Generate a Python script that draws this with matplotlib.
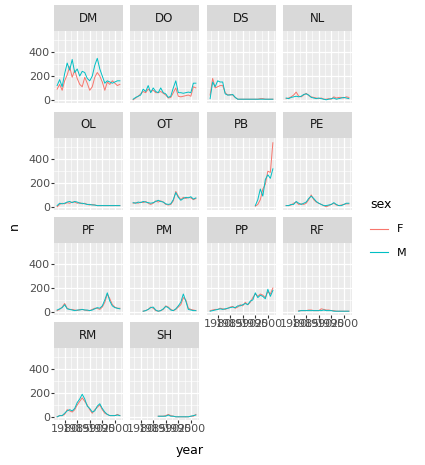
import numpy as np
import matplotlib
matplotlib.use('Agg')
from matplotlib import pyplot as plt
from matplotlib.lines import Line2D

years = list(range(1977, 2003))
species = ['DM', 'DO', 'DS', 'NL', 'OL', 'OT', 'PB', 'PE', 'PF', 'PM', 'PP', 'RF', 'RM', 'SH']
na = np.nan

dm_f = [90, 130, 80, 160, 210, 280, 190, 250, 180, 130, 110, 190, 140, 80, 110, 190, 230, 200, 150, 80, 150, 130, 160, 140, 120, 130]
dm_m = [120, 170, 110, 220, 310, 250, 340, 230, 260, 200, 240, 230, 180, 160, 200, 290, 350, 260, 200, 140, 160, 150, 140, 150, 160, 160]
do_f = [0, 15, 30, 50, 70, 60, 90, 70, 80, 60, 60, 70, 55, 40, 15, 20, 60, 100, 30, 25, 30, 35, 40, 30, 110, 100]
do_m = [5, 20, 30, 40, 90, 70, 120, 60, 100, 70, 60, 100, 60, 50, 20, 30, 100, 160, 60, 60, 55, 60, 65, 60, 140, 140]
ds_f = [40, 180, 100, 110, 120, 120, 60, 40, 45, 40, 20, 5, 5, 5, 5, 5, 5, 5, 5, 5, 10, 10, 5, 5, 5, 5]
ds_m = [10, 150, 110, 160, 150, 150, 50, 40, 40, 45, 20, 5, 5, 5, 5, 5, 5, 5, 5, 5, 5, 5, 5, 5, 5, 5]
nl_f = [10, 15, 25, 40, 65, 30, 25, 40, 55, 35, 25, 20, 15, 10, 15, 5, 5, 10, 5, 25, 15, 20, 20, 15, 25, 20]
nl_m = [15, 10, 20, 25, 30, 25, 30, 45, 50, 40, 20, 15, 10, 15, 10, 5, 0, 5, 10, 15, 5, 10, 15, 20, 15, 10]
ol_f = [0, 20, 30, 25, 35, 30, 40, 40, 30, 35, 25, 30, 20, 15, 20, 15, 10, 10, 10, 10, 10, 10, 10, 10, 10, 10]
ol_m = [10, 30, 25, 30, 40, 45, 35, 45, 40, 30, 30, 25, 20, 20, 15, 15, 10, 10, 10, 10, 10, 10, 10, 10, 10, 10]
ot_f = [30, 35, 30, 40, 35, 45, 30, 20, 30, 50, 40, 50, 40, 20, 15, 20, 50, 130, 90, 60, 80, 70, 80, 75, 60, 70]
ot_m = [35, 30, 40, 35, 45, 40, 35, 30, 35, 45, 55, 45, 40, 25, 20, 25, 60, 120, 80, 55, 70, 80, 75, 85, 65, 75]
pb_f = [na] * 18 + [5, 20, 60, 150, 190, 300, 290, 540]
pb_m = [na] * 18 + [10, 60, 150, 90, 230, 270, 240, 320]
pe_f = [10, 10, 15, 30, 40, 20, 25, 20, 30, 60, 100, 60, 40, 30, 20, 10, 0, 10, 20, 30, 15, 10, 15, 20, 25, 25]
pe_m = [10, 10, 20, 20, 45, 30, 20, 30, 40, 70, 90, 70, 45, 30, 20, 10, 10, 15, 20, 35, 20, 10, 10, 20, 30, 30]
pf_f = [10, 20, 40, 70, 30, 20, 20, 15, 10, 20, 20, 15, 10, 10, 20, 30, 30, 20, 40, 80, 150, 110, 60, 40, 30, 30]
pf_m = [15, 25, 35, 60, 25, 20, 15, 10, 15, 15, 20, 15, 15, 10, 15, 25, 35, 30, 50, 100, 160, 90, 50, 35, 30, 25]
pm_f = [na] * 4 + [5, 10, 20, 40, 30, 10, 5, 10, 20, 50, 40, 20, 10, 20, 40, 60, 120, 100, 30, 20, 15, 10]
pm_m = [na] * 4 + [5, 10, 20, 35, 40, 15, 5, 10, 25, 45, 35, 15, 10, 25, 50, 80, 150, 90, 20, 15, 10, 10]
pp_f = [10, 15, 20, 20, 30, 25, 20, 30, 40, 45, 30, 40, 60, 50, 80, 60, 80, 120, 150, 130, 150, 140, 120, 170, 150, 200]
pp_m = [5, 10, 15, 20, 25, 20, 25, 30, 35, 40, 35, 50, 50, 60, 70, 60, 90, 100, 160, 120, 140, 130, 110, 190, 130, 180]
rf_f = [na] * 5 + [10, 10, 10, 10, 15, 15, 10, 10, 10, 25, 20, 15, 15, 10, 10, 5, 5, 5, 5, 5, 5]
rf_m = [na] * 5 + [5, 10, 10, 10, 10, 10, 10, 10, 10, 10, 15, 10, 10, 10, 5, 5, 5, 5, 5, 5, 5]
rm_f = [0, 10, 10, 20, 60, 50, 40, 60, 100, 130, 160, 130, 100, 60, 30, 60, 80, 100, 60, 30, 20, 10, 10, 10, 20, 10]
rm_m = [0, 10, 10, 30, 50, 60, 50, 70, 120, 150, 190, 150, 90, 70, 40, 50, 90, 110, 70, 40, 20, 10, 10, 10, 15, 10]
sh_f = [na] * 10 + [5, 5, 5, 10, 20, 10, 5, 0, 0, 0, 0, 0, 0, 5, 5, 20]
sh_m = [na] * 10 + [5, 5, 5, 5, 15, 5, 5, 0, 0, 0, 0, 0, 0, 5, 10, 15]

female = [dm_f, do_f, ds_f, nl_f, ol_f, ot_f, pb_f, pe_f, pf_f, pm_f, pp_f, rf_f, rm_f, sh_f]
male = [dm_m, do_m, ds_m, nl_m, ol_m, ot_m, pb_m, pe_m, pf_m, pm_m, pp_m, rf_m, rm_m, sh_m]

W, H = 425, 465
fig = plt.figure(figsize=(W / 100, H / 100), dpi=100)
col_x = [54, 130, 207, 283]
row_y = [31, 138, 243, 348]
pw, ph, sh = 69, 72, 26
F_COL, M_COL = '#F8766D', '#00BFC4'
txt = '#4D4D4D'

for i, sp in enumerate(species):
    r, c = divmod(i, 4)
    x0, y0 = col_x[c], row_y[r]
    ax = fig.add_axes([x0 / W, 1 - (y0 + ph) / H, pw / W, ph / H])
    ax.set_facecolor('#EBEBEB')
    ax.plot(years, female[i], color=F_COL, lw=0.7)
    ax.plot(years, male[i], color=M_COL, lw=0.7)
    ax.set_xlim(1975.75, 2003.25)
    ax.set_ylim(-27, 580)
    ax.set_xticks([1980, 1985, 1990, 1995, 2000])
    ax.set_xticks([1977.5, 1982.5, 1987.5, 1992.5, 1997.5, 2002.5], minor=True)
    ax.set_yticks([0, 200, 400])
    ax.set_yticks([100, 300, 500], minor=True)
    ax.grid(which='major', color='white', lw=0.9)
    ax.grid(which='minor', color='white', lw=0.45)
    ax.set_axisbelow(True)
    for s in ax.spines.values():
        s.set_visible(False)
    ax.tick_params(which='both', length=2, color='#333333', labelsize=8, labelcolor=txt, pad=1)
    ax.tick_params(which='minor', length=0)
    if c != 0:
        ax.set_yticklabels([])
        ax.tick_params(axis='y', length=0)
    bottom = (r == 3) or (r == 2 and c >= 2)
    if not bottom:
        ax.set_xticklabels([])
        ax.tick_params(axis='x', length=0)
    st = fig.add_axes([x0 / W, 1 - y0 / H, pw / W, sh / H])
    st.set_facecolor('#D9D9D9')
    st.set_xticks([])
    st.set_yticks([])
    for s in st.spines.values():
        s.set_visible(False)
    st.text(0.5, 0.5, sp, ha='center', va='center', fontsize=8.5, color='#1A1A1A')

fig.text(190 / W, 1 - 450 / H, 'year', ha='center', va='center', fontsize=9)
fig.text(14 / W, 1 - 226 / H, 'n', ha='center', va='center', fontsize=9, rotation=90)
handles = [Line2D([], [], color=F_COL, lw=0.8), Line2D([], [], color=M_COL, lw=0.8)]
leg = fig.legend(handles, ['F', 'M'], title='sex', loc='center left',
                 bbox_to_anchor=(360 / W, 1 - 228 / H), frameon=False, fontsize=8,
                 title_fontsize=9, handlelength=1.6, labelspacing=1.2, alignment='left')
fig.savefig('out.png', dpi=100)
